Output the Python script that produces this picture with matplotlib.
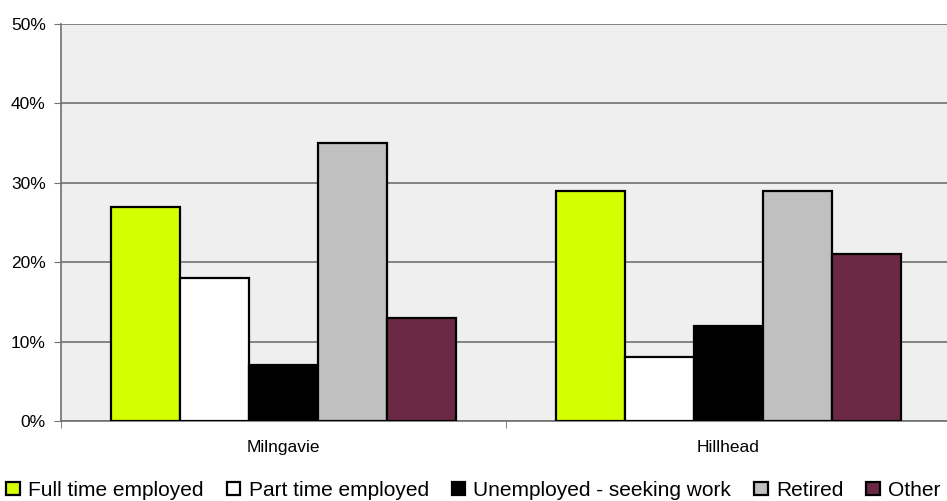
import numpy as np
import matplotlib.pyplot as plt
from matplotlib.ticker import FixedLocator, NullFormatter

plt.rcParams['font.family'] = ['Liberation Sans', 'DejaVu Sans']

areas = ['Milngavie', 'Hillhead']
statuses = ['Full time employed', 'Part time employed', 'Unemployed - seeking work',
            'Retired', 'Other']
# percentage of respondents by employment status
full_time = [27, 29]
part_time = [18, 8]
unemployed = [7, 12]
retired = [35, 29]
other = [13, 21]
colours = ['#d4ff00', '#ffffff', '#000000', '#c0c0c0', '#6b2845']

series = [full_time, part_time, unemployed, retired, other]

fig = plt.figure(figsize=(9.47, 5.01), dpi=100)
ax = fig.add_axes([61 / 947, 80 / 501, 890 / 947, 397 / 501])
ax.set_facecolor('#efefef')

x = np.arange(len(areas))
w = 0.155
for i, (vals, name, col) in enumerate(zip(series, statuses, colours)):
    ax.bar(x + (i - 2) * w, vals, w, color=col, edgecolor='black', linewidth=1.6,
           label=name, zorder=3)

ax.set_xlim(-0.5, 1.5)
ax.set_ylim(0, 50)
ax.set_yticks(range(0, 51, 10))
ax.set_yticklabels([f'{v}%' for v in range(0, 51, 10)], fontsize=12.5)
ax.yaxis.grid(True, color='#707070', linewidth=1.2, zorder=1)

ax.set_xticks(x)
ax.set_xticklabels(areas, fontsize=12.5)
ax.tick_params(axis='x', length=0, pad=14)
ax.xaxis.set_minor_locator(FixedLocator([-0.5, 0.5, 1.5]))
ax.xaxis.set_minor_formatter(NullFormatter())
ax.tick_params(axis='x', which='minor', length=5, color='#707070')
ax.tick_params(axis='y', length=5, color='#707070', pad=6)

for side in ['top', 'right']:
    ax.spines[side].set_visible(False)
for side in ['left', 'bottom']:
    ax.spines[side].set_color('#707070')
    ax.spines[side].set_linewidth(1.2)

fig.legend(loc='lower center', bbox_to_anchor=(0.5, -0.035), ncol=5, frameon=False,
           fontsize=15, handlelength=0.65, handleheight=0.65, handletextpad=0.4,
           columnspacing=1.1)

fig.savefig('out.png', dpi=100)
